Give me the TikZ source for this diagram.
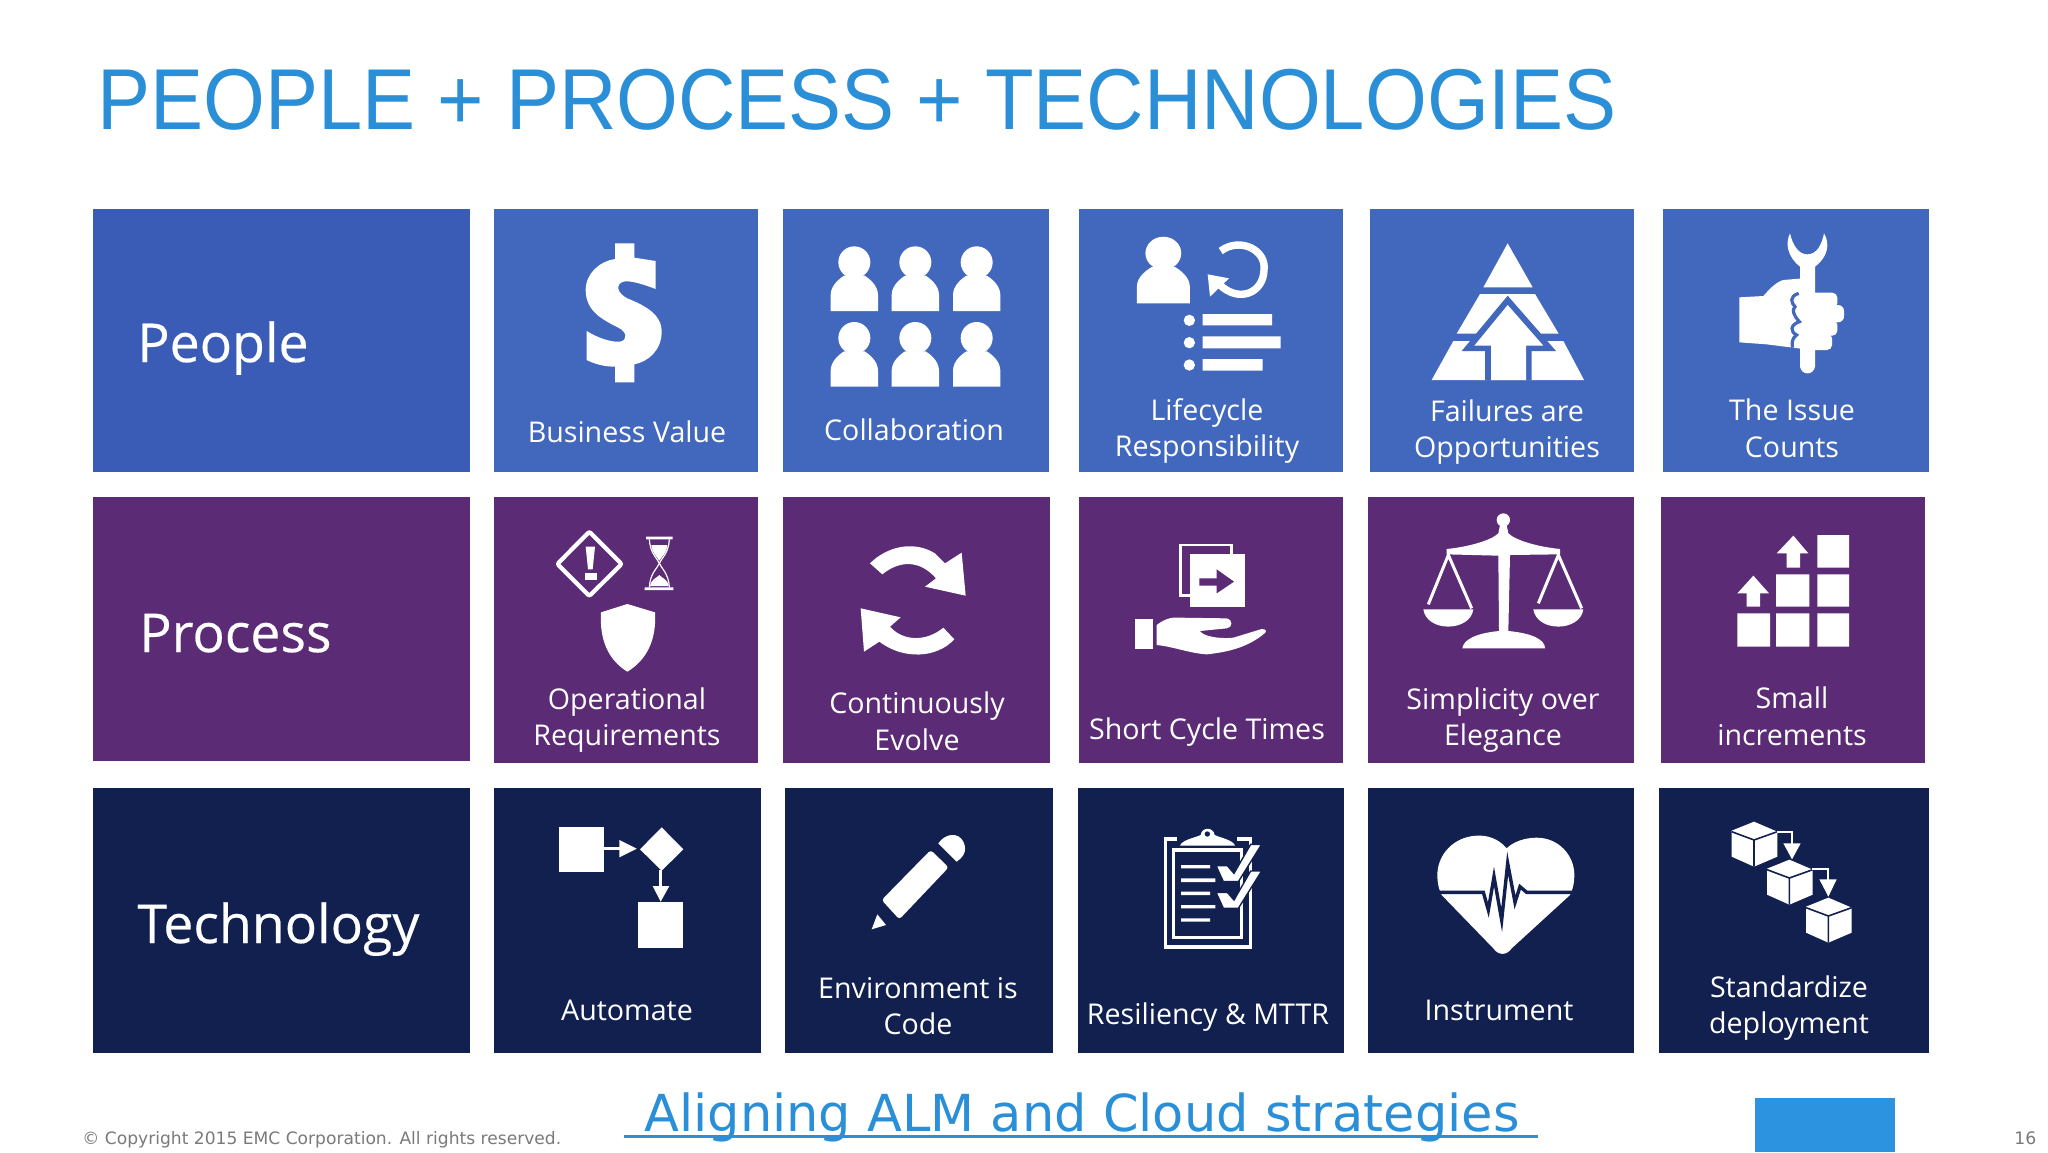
\documentclass[tikz,border=0pt]{standalone}
\usepackage{fontspec}
\setmainfont{Open Sans}
\newfontfamily\bigfont[FakeBold=0.35]{Open Sans}
\newfontfamily\titlefont[FakeStretch=0.92]{Liberation Sans}
\newfontfamily\ftfont{DejaVu Sans}
\definecolor{tileblue}{HTML}{4268BD}
\definecolor{headblue}{HTML}{3A5BB6}
\definecolor{tilepurple}{HTML}{5C2B76}
\definecolor{tilenavy}{HTML}{11204F}
\definecolor{titleblue}{HTML}{2B8FD8}
\definecolor{barblue}{HTML}{2B93E0}
\definecolor{footgray}{HTML}{7A7A7A}
\tikzset{
  lbl/.style={text=white,align=center,inner sep=0pt,font=\fontsize{14.3}{18.3}\selectfont},
  biglbl/.style={text=white,anchor=base west,inner sep=0pt,font=\bigfont\fontsize{26.8}{30}\selectfont},
  ink/.style={fill=white,draw=none},
  personicon/.pic={
    \fill[white] (0,-146) circle [radius=48];
    \fill[white] (-71,0) -- (-71,-48) .. controls (-71,-78) and (-43,-98) .. (-31,-106) -- (31,-106) .. controls (43,-98) and (71,-78) .. (71,-48) -- (71,0) -- cycle;
  },
  cubeicon/.pic={
    \fill[white] (0,-67) -- (70,-37) -- (70,38) -- (0,68) -- (-67,38) -- (-67,-40) -- cycle;
    \draw[tilenavy,line width=0.8pt] (-67,-37) -- (0,-12) -- (70,-37) (0,-12) -- (0,68);
  },
}
\newcommand{\tile}[5]{\fill[#1] (#2,#3) rectangle (#4,#5);}
\begin{document}
\begin{tikzpicture}[x=0.5pt,y=-0.5pt]
\useasboundingbox (0,0) rectangle (2048,1152);
\fill[white] (0,0) rectangle (2048,1152);
% tiles
\tile{headblue}{93}{209}{470}{472}
\tile{tileblue}{494}{209}{758}{472}
\tile{tileblue}{783}{209}{1049}{472}
\tile{tileblue}{1079}{209}{1343}{472}
\tile{tileblue}{1370}{209}{1634}{472}
\tile{tileblue}{1663}{209}{1929}{472}
\tile{tilepurple}{93}{497}{470}{761}
\tile{tilepurple}{494}{497}{758}{763}
\tile{tilepurple}{783}{497}{1050}{763}
\tile{tilepurple}{1079}{497}{1343}{763}
\tile{tilepurple}{1368}{497}{1634}{763}
\tile{tilepurple}{1661}{497}{1925}{763}
\tile{tilenavy}{93}{788}{470}{1053}
\tile{tilenavy}{494}{788}{761}{1053}
\tile{tilenavy}{785}{788}{1053}{1053}
\tile{tilenavy}{1078}{788}{1344}{1053}
\tile{tilenavy}{1368}{788}{1634}{1053}
\tile{tilenavy}{1659}{788}{1929}{1053}
% title
\node[anchor=base west,inner sep=0pt,text=titleblue,font=\titlefont\fontsize{43.2}{50}\selectfont] (title) at (97,129) {PEOPLE + PROCESS + TECHNOLOGIES};
% row headers
\node[biglbl] (people) at (137,362) {People};
\node[biglbl] (process) at (139,652) {Process};
\node[biglbl] (technology) at (137,943) {Technology};
% labels
\node[lbl] (l11) at (627,432) {Business Value};
\node[lbl] (l12) at (914,430) {Collaboration};
\node[lbl] (l13) at (1207,431) {Lifecycle\\Responsibility};
\node[lbl] (l14) at (1507,432) {Failures are\\Opportunities};
\node[lbl] (l15) at (1792,428) {The Issue\\Counts};
\node[lbl] (l21) at (627,720) {Operational\\Requirements};
\node[lbl] (l22) at (917,721) {Continuously\\Evolve};
\node[lbl] (l23) at (1207,732) {Short Cycle Times};
\node[lbl] (l24) at (1503,720) {Simplicity over\\Elegance};
\node[lbl] (l25) at (1792,716) {Small\\increments};
\node[lbl] (l31) at (627,1010) {Automate};
\node[lbl] (l32) at (918,1006) {Environment is\\Code};
\node[lbl] (l33) at (1208,1017) {Resiliency \& MTTR};
\node[lbl] (l34) at (1499,1010) {Instrument};
\node[lbl] (l35) at (1789,1008) {Standardize\\deployment};
% footer
\node[anchor=base west,inner sep=0pt,text=footgray,font=\ftfont\fontsize{8.55}{11}\selectfont] (copy) at (82,1144) {© Copyright 2015 EMC Corporation. All rights reserved.};
\node[anchor=base west,inner sep=0pt,text=footgray,font=\ftfont\fontsize{8.6}{11}\selectfont] (pageno) at (2014,1144) {16};
\node[anchor=base west,inner sep=0pt,text=titleblue,font=\ftfont\fontsize{25.5}{30}\selectfont] (link) at (644,1131) {Aligning ALM and Cloud strategies};
\fill[titleblue] (624,1134.5) rectangle (1538,1138);
\fill[barblue] (1755,1098) rectangle (1895,1152);
% ---------- icons row 1: dollar, people
\begin{scope}[shift={(540,225)},scale=0.33333]
\fill[ink] (225,55) -- (283,55) -- (283,98) -- (347,108) -- (347,192) .. controls (310,178) and (270,165) .. (250,170) .. controls (225,178) and (232,205) .. (262,220) .. controls (310,240) and (365,265) .. (365,320) .. controls (365,375) and (325,410) .. (283,418) -- (283,472) -- (225,472) -- (225,425) .. controls (195,425) and (165,418) .. (140,405) -- (140,318) .. controls (175,340) and (215,352) .. (240,350) .. controls (265,345) and (260,320) .. (235,308) .. controls (190,285) and (137,260) .. (137,195) .. controls (137,145) and (180,108) .. (225,102) -- cycle;
\pic[transform shape] at (943,258) {personicon};
\pic[transform shape] at (1126,258) {personicon};
\pic[transform shape] at (1310,258) {personicon};
\pic[transform shape] at (943,485) {personicon};
\pic[transform shape] at (1126,485) {personicon};
\pic[transform shape] at (1310,485) {personicon};
\end{scope}
% lifecycle + pyramid
\begin{scope}[shift={(1110,225)},scale=0.33333]
\begin{scope}[shift={(160,235)},xscale=1.12,yscale=1.03]
\pic[transform shape] at (0,0) {personicon};
\end{scope}
\draw[white,line width=3.7pt] (332,78) .. controls (390,35) and (470,75) .. (462,135) .. controls (460,205) and (385,235) .. (328,178);
\fill[ink] (293,148) -- (357,160) -- (300,215) -- cycle;
\fill[white] (238,286) circle [radius=17] (238,353) circle [radius=17] (238,420) circle [radius=17];
\fill[ink] (278,267) rectangle (486,301) (278,334) rectangle (512,370) (278,402) rectangle (458,437);
\fill[ink] (1193,55) -- (1268,187) -- (1120,187) -- cycle;
\fill[ink] (1110,207) -- (1275,207) -- (1346,326) -- (1040,326) -- cycle;
\fill[ink] (1030,348) -- (1360,348) -- (1422,465) -- (965,465) -- cycle;
\fill[tileblue] (1193,212) -- (1338,378) -- (1265,378) -- (1265,466) -- (1125,466) -- (1125,378) -- (1055,378) -- cycle;
\fill[ink] (1193,240) -- (1300,362) -- (1248,362) -- (1248,465) -- (1143,465) -- (1143,362) -- (1093,362) -- cycle;
\end{scope}
% wrench in hand
\begin{scope}[shift={(1700,225)},scale=0.33333]
\fill[ink] (270,25) .. controls (255,55) and (262,95) .. (300,125) -- (300,425) .. controls (305,452) and (340,452) .. (345,425) -- (345,125) .. controls (385,95) and (390,55) .. (372,25) .. controls (365,60) and (350,88) .. (322,88) .. controls (295,88) and (278,60) .. (270,25) -- cycle;
\fill[ink] (118,217) -- (190,213) .. controls (210,190) and (230,170) .. (250,165) -- (310,160) -- (310,372) -- (200,358) -- (118,352) -- cycle;
\fill[ink,rounded corners=2.5pt] (310,203) rectangle (412,250);
\fill[ink,rounded corners=3pt] (310,240) rectangle (432,292);
\fill[ink,rounded corners=2.5pt] (310,285) rectangle (412,332);
\fill[ink,rounded corners=2.5pt] (310,325) rectangle (396,375);
\draw[tileblue,line width=1.6pt] (296,205) .. controls (265,215) and (275,235) .. (285,245) .. controls (275,255) and (280,270) .. (298,290) .. controls (270,300) and (270,320) .. (290,330) .. controls (275,340) and (275,355) .. (278,368);
\end{scope}
% ---------- row 2: requirements, evolve
\begin{scope}[shift={(540,510)},scale=0.33333]
\draw[white,line width=2.1pt,rounded corners=1pt] (148,65) -- (245,162) -- (148,258) -- (52,162) -- cycle;
\fill[ink] (137,110) -- (165,110) -- (158,178) -- (144,178) -- cycle;
\fill[ink] (135,188) rectangle (170,210);
\fill[ink] (318,80) rectangle (398,88) (314,232) rectangle (400,240);
\draw[white,line width=0.6pt] (328,88) .. controls (330,130) and (352,145) .. (358,160) .. controls (352,175) and (330,190) .. (328,232);
\draw[white,line width=0.6pt] (388,88) .. controls (386,130) and (364,145) .. (358,160) .. controls (364,175) and (386,190) .. (388,232);
\fill[ink] (334,105) -- (382,105) .. controls (380,130) and (365,140) .. (358,152) .. controls (351,140) and (336,130) .. (334,105) -- cycle;
\fill[ink] (330,228) .. controls (335,205) and (350,205) .. (358,195) .. controls (366,205) and (381,205) .. (386,228) -- cycle;
\fill[ink] (262,282) -- (345,307) .. controls (350,390) and (320,450) .. (262,485) .. controls (205,450) and (178,390) .. (183,307) -- cycle;
\fill[ink] (990,160) .. controls (1040,110) and (1120,90) .. (1185,130) -- (1215,160) -- (1265,128) -- (1277,257) -- (1155,230) -- (1188,205) .. controls (1140,150) and (1080,150) .. (1027,193) -- cycle;
\fill[ink] (962,295) -- (1082,322) -- (1050,350) .. controls (1090,395) and (1160,395) .. (1210,353) -- (1243,388) .. controls (1190,445) and (1090,450) .. (1018,395) -- (972,425) -- cycle;
\end{scope}
% short cycle + scales
\begin{scope}[shift={(1120,505)},scale=0.33333]
\draw[white,line width=1.4pt] (182,120) rectangle (335,272);
\fill[tilepurple] (195,135) rectangle (222,160);
\fill[ink] (210,148) rectangle (375,307);
\fill[tilepurple] (238,220) -- (290,220) -- (290,193) -- (342,230) -- (290,265) -- (290,242) -- (238,242) -- cycle;
\fill[ink] (45,342) rectangle (98,432);
\fill[ink] (110,360) .. controls (130,345) and (150,335) .. (180,338) -- (320,340) .. controls (340,345) and (338,368) .. (320,370) -- (240,378) .. controls (250,395) and (300,402) .. (340,398) -- (425,372) .. controls (440,372) and (442,380) .. (430,388) .. controls (390,420) and (340,440) .. (260,448) .. controls (210,445) and (160,425) .. (110,420) -- cycle;
\fill[white] (1150,45) circle [radius=20];
\fill[ink] (980,132) .. controls (1050,125) and (1115,105) .. (1135,85) -- (1140,60) -- (1160,60) -- (1165,85) .. controls (1185,105) and (1250,125) .. (1320,132) -- (1320,148) -- (1170,150) -- (1165,378) .. controls (1240,385) and (1275,405) .. (1275,430) -- (1027,430) .. controls (1030,405) and (1065,385) .. (1137,378) -- (1135,152) -- (980,148) -- cycle;
\fill[ink] (910,313) -- (1060,313) .. controls (1050,382) and (920,382) .. (910,313) -- cycle;
\fill[ink] (1240,313) -- (1390,313) .. controls (1380,382) and (1250,382) .. (1240,313) -- cycle;
\draw[white,line width=1.5pt] (925,298) -- (985,150) -- (1055,310) (1255,295) -- (1315,150) -- (1385,310);
\end{scope}
% ---------- row 3: automate, pencil
\begin{scope}[shift={(540,810)},scale=0.33333]
\fill[ink] (58,50) rectangle (192,187);
\draw[white,line width=1.4pt] (192,116) -- (240,116);
\fill[ink] (238,90) -- (290,116) -- (238,142) -- cycle;
\fill[ink] (365,52) -- (430,118) -- (365,182) -- (300,118) -- cycle;
\draw[white,line width=1.4pt] (362,180) -- (362,232);
\fill[ink] (338,228) -- (388,228) -- (362,275) -- cycle;
\fill[ink] (293,276) rectangle (430,415);
\fill[ink,rounded corners=1.5pt] (1172,120) -- (1226,172) -- (1078,328) -- (1025,270) -- cycle;
\fill[ink] (1195,100) .. controls (1215,70) and (1255,65) .. (1270,95) .. controls (1285,125) and (1265,145) .. (1250,155) -- cycle;
\fill[ink] (1012,313) -- (1038,345) -- (995,358) -- cycle;
\end{scope}
% clipboard + heart
\begin{scope}[shift={(1140,815)},scale=0.33333]
\draw[white,line width=1.6pt] (76,72) rectangle (331,396);
\draw[white,line width=1.6pt] (100,105) rectangle (305,368);
\fill[tilenavy] (112,62) rectangle (290,98);
\fill[ink] (120,92) .. controls (125,75) and (165,68) .. (182,60) .. controls (185,35) and (220,35) .. (224,60) .. controls (240,68) and (280,75) .. (285,92) -- cycle;
\fill[tilenavy] (202,57) circle [radius=8];
\fill[ink] (123,150) rectangle (210,160) (123,190) rectangle (226,201) (123,230) rectangle (210,240) (123,270) rectangle (226,280) (123,310) rectangle (210,320);
\foreach \dy in {0,80} {
  \filldraw[white,draw=tilenavy,line width=0.7pt,shift={(0,\dy)}] (228,152) -- (262,152) -- (282,175) -- (332,88) -- (365,88) -- (295,200) -- (250,200) -- cycle;
}
\fill[ink] (1100,100) .. controls (1075,70) and (1040,60) .. (1010,62) .. controls (940,65) and (892,120) .. (892,180) .. controls (892,205) and (897,225) .. (905,240) -- (1060,400) .. controls (1075,422) and (1100,422) .. (1115,400) -- (1290,240) .. controls (1300,220) and (1303,200) .. (1303,180) .. controls (1303,120) and (1255,68) .. (1190,68) .. controls (1155,68) and (1120,80) .. (1100,100) -- cycle;
\draw[tilenavy,line width=1.7pt,miter limit=20] (885,232) -- (1030,232) -- (1045,285) -- (1062,185) -- (1085,315) -- (1103,145) -- (1125,262) -- (1140,215) -- (1160,232) -- (1310,232);
\end{scope}
% increments + cubes
\begin{scope}[shift={(1700,510)},scale=0.33333]
\fill[ink] (352,75) rectangle (447,173) (352,193) rectangle (447,290) (228,193) rectangle (328,290) (112,310) rectangle (210,410) (228,310) rectangle (328,410) (352,310) rectangle (447,410);
\fill[ink] (280,77) -- (325,130) -- (300,130) -- (300,173) -- (260,173) -- (260,130) -- (230,130) -- cycle;
\fill[ink] (160,197) -- (207,250) -- (180,250) -- (180,290) -- (140,290) -- (140,250) -- (112,250) -- cycle;
\pic[transform shape] at (162,1002) {cubeicon};
\pic[transform shape] at (268,1116) {cubeicon};
\pic[transform shape] at (385,1230) {cubeicon};
\draw[white,line width=0.9pt] (230,965) -- (276,965) -- (276,1002);
\fill[ink] (250,1000) -- (302,1000) -- (276,1048) -- cycle;
\draw[white,line width=0.9pt] (335,1078) -- (385,1078) -- (385,1110);
\fill[ink] (358,1108) -- (410,1108) -- (385,1160) -- cycle;
\end{scope}
\end{tikzpicture}
\end{document}
